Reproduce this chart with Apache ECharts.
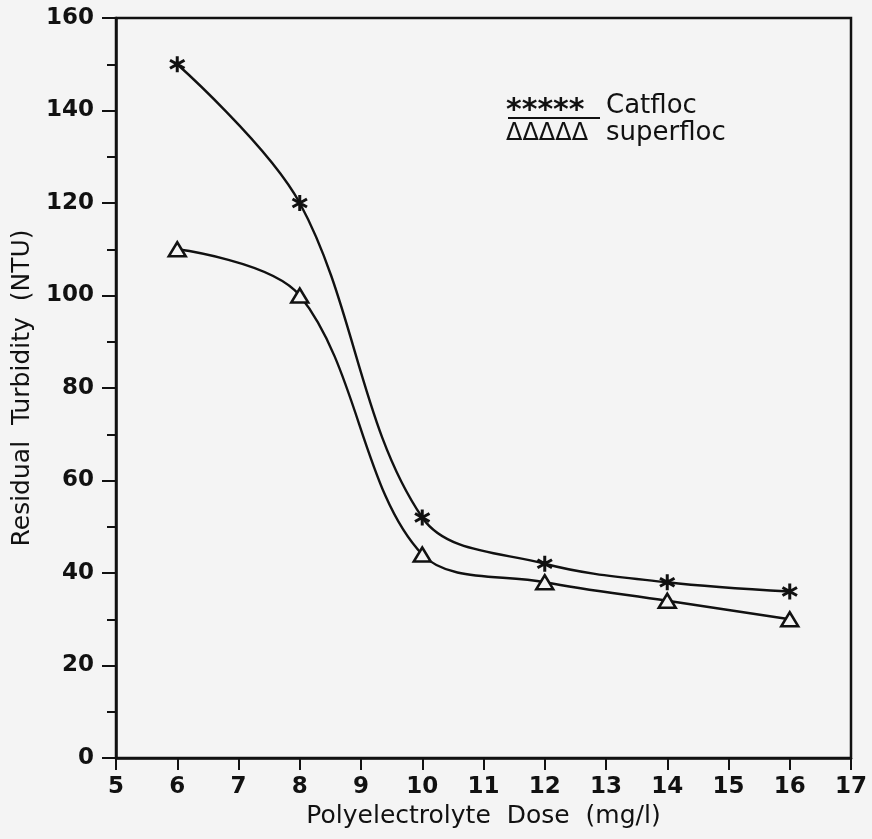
<!DOCTYPE html>
<html>
<head>
<meta charset="utf-8">
<script src="https://cdn.jsdelivr.net/npm/echarts@6/dist/echarts.min.js"></script>
<style>
html,body{margin:0;padding:0;background:#f4f4f4;}
#c{width:872px;height:839px;}
</style>
</head>
<body>
<div id="c"></div>
<script>
const doses = [6, 8, 10, 12, 14, 16];
const catfloc = [150, 120, 52, 42, 38, 36];
const superfloc = [110, 100, 44, 38, 34, 30];
const xTicks = [5, 6, 7, 8, 9, 10, 11, 12, 13, 14, 15, 16, 17];
const yTicks = [0, 20, 40, 60, 80, 100, 120, 140, 160];

const FONT = '"DejaVu Sans", sans-serif';
const star = 'path://M-1.8,-10L1.8,-10L1.8,10L-1.8,10Z M7.76,-6.56L9.56,-3.44L-7.76,6.56L-9.56,3.44Z M-9.56,-3.44L-7.76,-6.56L9.56,3.44L7.76,6.56Z';

const chart = echarts.init(document.getElementById('c'));
chart.setOption({
  backgroundColor: '#f4f4f4',
  animation: false,
  grid: {left: 116, top: 18, right: 21, bottom: 81, show: true, borderColor: '#111', borderWidth: 2.5, backgroundColor: 'transparent'},
  xAxis: {
    type: 'value', min: xTicks[0], max: xTicks[xTicks.length - 1], interval: 1,
    name: 'Polyelectrolyte  Dose  (mg/l)', nameLocation: 'middle', nameGap: 41,
    nameTextStyle: {fontFamily: FONT, fontSize: 25, color: '#111'},
    axisLine: {lineStyle: {color: '#111', width: 2.5}},
    axisTick: {inside: false, length: 12, lineStyle: {color: '#111', width: 2}},
    axisLabel: {fontFamily: FONT, fontSize: 23, fontWeight: 'bold', color: '#111', margin: 18},
    splitLine: {show: false}
  },
  yAxis: {
    type: 'value', min: yTicks[0], max: yTicks[yTicks.length - 1], interval: 20,
    name: 'Residual  Turbidity  (NTU)', nameLocation: 'middle', nameGap: 81,
    nameTextStyle: {fontFamily: FONT, fontSize: 25, color: '#111'},
    axisLine: {show: true, lineStyle: {color: '#111', width: 2.5}},
    axisTick: {show: true, length: 14, lineStyle: {color: '#111', width: 2}},
    minorTick: {show: true, splitNumber: 2, length: 9, lineStyle: {color: '#111', width: 2}},
    axisLabel: {fontFamily: FONT, fontSize: 23, fontWeight: 'bold', color: '#111', margin: 22},
    splitLine: {show: false}
  },
  series: [
    {
      name: 'Catfloc', type: 'line', data: doses.map((d, i) => [d, catfloc[i]]),
      smooth: 0.35,
      symbol: star, symbolSize: 16,
      lineStyle: {color: '#111', width: 2.4},
      itemStyle: {color: '#111'}
    },
    {
      name: 'superfloc', type: 'line', data: doses.map((d, i) => [d, superfloc[i]]),
      smooth: 0.35,
      symbol: 'triangle', symbolSize: [17, 14],
      lineStyle: {color: '#111', width: 2.4},
      itemStyle: {color: '#f4f4f4', borderColor: '#111', borderWidth: 2.5}
    }
  ],
  graphic: [
    {type: 'text', left: 506, top: 96, style: {text: '*****', font: 'bold 30px ' + FONT, fill: '#111'}},
    {type: 'line', shape: {x1: 508, y1: 118, x2: 600, y2: 118}, style: {stroke: '#111', lineWidth: 2}},
    {type: 'text', left: 606, top: 93, style: {text: 'Catfloc', font: '26px ' + FONT, fill: '#111'}},
    {type: 'text', left: 506, top: 122, style: {text: 'ΔΔΔΔΔ', font: '24px ' + FONT, fill: '#111'}},
    {type: 'text', left: 606, top: 120, style: {text: 'superfloc', font: '26px ' + FONT, fill: '#111'}}
  ]
});
</script>
</body>
</html>
